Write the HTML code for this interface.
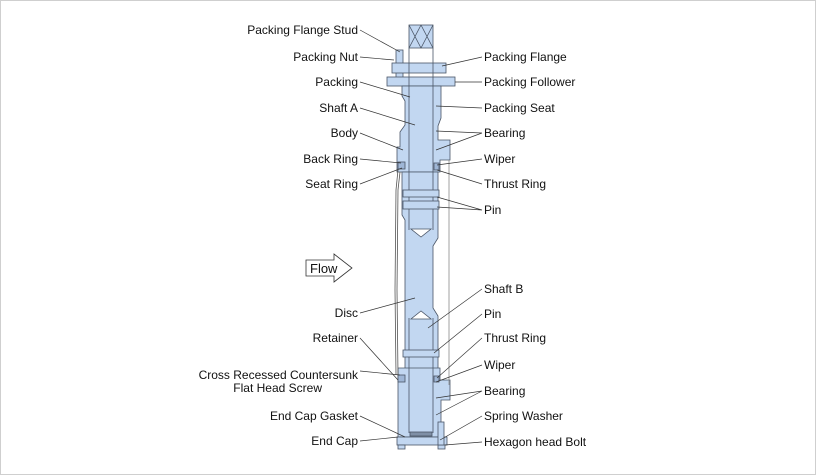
<!DOCTYPE html>
<html><head><meta charset="utf-8"><style>
html,body{margin:0;padding:0;background:#fff}
svg{display:block}
text{font-family:"Liberation Sans",Arial,sans-serif;font-size:12px;fill:#111}
</style></head><body>
<svg width="816" height="475" viewBox="0 0 816 475" xmlns="http://www.w3.org/2000/svg">
<rect x="0.5" y="0.5" width="815" height="474" fill="#fff" stroke="#cfcfcf"/>
<g stroke="#4a5566" stroke-width="0.8" fill="#c2d7f1">
<rect x="409" y="25" width="24" height="23"/>
<path d="M409 25 L421 48 M421 25 L409 48 M421 25 L433 48 M433 25 L421 48" fill="none"/>
<rect x="396" y="50" width="7" height="30"/>
<rect x="392" y="63" width="54" height="10"/>
<rect x="387" y="77" width="68" height="9"/>
<path d="M402 86 L402 96 L405 101 L405 125 L400 132 L400 147 L397 147 L397 172 L440 172 L440 160 L450 160 L450 140 L438 140 L438 126 L441 118 L441 86 Z"/>
<path d="M402 172 L402 215 L405 220 L405 370 L438 370 L438 316 L433 308 L433 246 L438 238 L438 172 Z"/>
<path d="M398 368 L398 437 L441 437 L441 400 L450 400 L450 380 L440 380 L440 368 Z"/>
<rect x="397" y="437" width="50" height="8"/>
<rect x="398" y="445" width="7" height="4"/>
<rect x="438" y="445" width="7" height="4"/>
<rect x="438" y="422" width="6" height="23"/>
<path d="M409 48 L409 230 M433 48 L433 230 M409 318 L409 433 M433 318 L433 433" fill="none"/>
<rect x="410" y="432" width="22" height="4" fill="#7f8fa6"/>
<rect x="403" y="190" width="36" height="7"/>
<rect x="403" y="201" width="36" height="8"/>
<rect x="403" y="350" width="36" height="7"/>
<rect x="398" y="162" width="7" height="7" fill="#9fb6d6"/>
<rect x="398" y="375" width="7" height="7" fill="#9fb6d6"/>
<rect x="434" y="163" width="5" height="7" fill="#9fb6d6"/>
<rect x="434" y="376" width="5" height="6" fill="#9fb6d6"/>
</g>
<path d="M411 229 L431 229 L421 237 Z" fill="#fff" stroke="#4a5566" stroke-width="0.8"/>
<path d="M411 319 L431 319 L421 311 Z" fill="#fff" stroke="#4a5566" stroke-width="0.8"/>
<path d="M398 170 L396 190 L395 290 L396 375 M400 172 L398 190 L397 290 L398 375" fill="none" stroke="#555" stroke-width="0.8"/>
<path d="M449 160 L449 385" fill="none" stroke="#8a8a8a" stroke-width="0.8"/>
<path d="M306 260 L334 260 L334 254 L352 268 L334 282 L334 276 L306 276 Z" fill="#fff" stroke="#333" stroke-width="0.8"/>
<text x="310" y="273" style="font-size:13px">Flow</text>
<g stroke="#333" stroke-width="0.7" fill="none">
<path d="M360 30 L400 52"/><path d="M360 57 L394 60"/><path d="M360 82 L410 97"/>
<path d="M360 108 L415 125"/><path d="M360 133 L403 150"/><path d="M360 159 L401 163"/>
<path d="M360 184 L402 168"/><path d="M360 313 L415 298"/><path d="M360 338 L398 380"/>
<path d="M360 371 L400 375"/><path d="M360 416 L405 437"/><path d="M360 441 L398 437"/>
<path d="M482 57 L442 66"/><path d="M482 82 L455 82"/><path d="M482 108 L436 106"/>
<path d="M482 133 L436 131 M482 133 L436 150"/><path d="M482 159 L437 165"/><path d="M482 184 L437 170"/>
<path d="M482 210 L437 197 M482 210 L437 207"/><path d="M482 289 L428 328"/><path d="M482 314 L434 353"/>
<path d="M482 338 L437 378"/><path d="M482 365 L436 382"/><path d="M482 391 L436 398 M482 391 L436 415"/>
<path d="M482 416 L440 440"/><path d="M482 442 L445 445"/>
</g>
<g text-anchor="end">
<text x="358" y="34">Packing Flange Stud</text>
<text x="358" y="61">Packing Nut</text>
<text x="358" y="86">Packing</text>
<text x="358" y="112">Shaft A</text>
<text x="358" y="137">Body</text>
<text x="358" y="163">Back Ring</text>
<text x="358" y="188">Seat Ring</text>
<text x="358" y="317">Disc</text>
<text x="358" y="342">Retainer</text>
<text x="358" y="379">Cross Recessed Countersunk</text>
<text x="322" y="392">Flat Head Screw</text>
<text x="358" y="420">End Cap Gasket</text>
<text x="358" y="445">End Cap</text>
</g>
<g>
<text x="484" y="61">Packing Flange</text>
<text x="484" y="86">Packing Follower</text>
<text x="484" y="112">Packing Seat</text>
<text x="484" y="137">Bearing</text>
<text x="484" y="163">Wiper</text>
<text x="484" y="188">Thrust Ring</text>
<text x="484" y="214">Pin</text>
<text x="484" y="293">Shaft B</text>
<text x="484" y="318">Pin</text>
<text x="484" y="342">Thrust Ring</text>
<text x="484" y="369">Wiper</text>
<text x="484" y="395">Bearing</text>
<text x="484" y="420">Spring Washer</text>
<text x="484" y="446">Hexagon head Bolt</text>
</g>
</svg>
</body></html>
